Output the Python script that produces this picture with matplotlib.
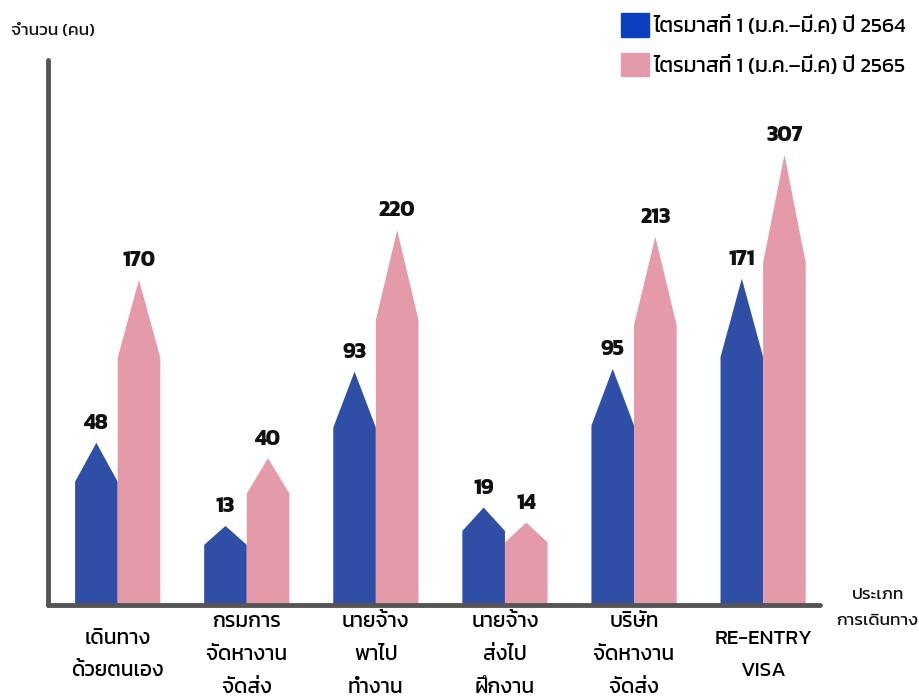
import numpy as np
import matplotlib
matplotlib.use("Agg")
import matplotlib.pyplot as plt
from matplotlib import font_manager
from matplotlib.patches import Patch

# ---------------- data ----------------
categories = ["เดินทาง\nด้วยตนเอง", "กรมการ\nจัดหางาน\nจัดส่ง", "นายจ้าง\nพาไป\nทำงาน",
              "นายจ้าง\nส่งไป\nฝึกงาน", "บริษัท\nจัดหางาน\nจัดส่ง", "RE-ENTRY\nVISA"]
q1_2564 = [48, 13, 93, 19, 95, 171]
q1_2565 = [170, 40, 220, 14, 213, 307]
series_labels = ["ไตรมาสที่ 1 (ม.ค.–มี.ค) ปี 2564", "ไตรมาสที่ 1 (ม.ค.–มี.ค) ปี 2565"]
y_title = "จำนวน (คน)"
x_title = "ประเภท\nการเดินทาง"

# ---------------- font with Thai glyphs ----------------
def find_thai_font():
    preferred = ["Kanit", "Mitr", "Prompt", "Noto Sans Thai", "Noto Sans Thai Looped",
                 "Sarabun", "Loma", "Garuda", "Tlwg Typo", "Norasi", "Waree", "Umpush"]
    try:
        from fontTools.ttLib import TTFont
    except Exception:
        return None
    found = {}
    for fe in font_manager.fontManager.ttflist:
        if fe.name in found:
            continue
        try:
            kw = {"fontNumber": 0} if fe.fname.lower().endswith(".ttc") else {}
            tt = TTFont(fe.fname, lazy=True, **kw)
            cmap = tt.getBestCmap() or {}
            if 0x0E44 in cmap and 0x0E17 in cmap:
                found[fe.name] = True
        except Exception:
            pass
    for p in preferred:
        if p in found:
            return p
    return next(iter(found), None)

thai = find_thai_font()
fams = ([thai] if thai else []) + ["DejaVu Sans"]
plt.rcParams["font.family"] = fams

# ---------------- figure ----------------
BLUE = "#2F4EA6"
PINK = "#E49AA8"
LEG_BLUE = "#0B3FBF"
LEG_PINK = "#E49AAA"
AXC = "#555555"

fig = plt.figure(figsize=(9.19, 7.0), dpi=100)
ax = fig.add_axes([0.0522, 0.1357, 0.840, 0.778])

P = 0.55
fwd = lambda y: np.power(np.clip(y, 0, None), P)
inv = lambda y: np.power(np.clip(y, 0, None), 1.0 / P)
ax.set_yscale("function", functions=(fwd, inv))
ax.set_ylim(0, 434)
ax.set_xlim(-0.54, 5.44)

w = 0.33
shoulder = 0.76

def pointed_bar(xc_left, xc_right, v, color):
    bt = float(inv(shoulder * fwd(v)))
    xm = (xc_left + xc_right) / 2
    xs = [xc_left, xc_right, xc_right, xm, xc_left]
    ys = [0, 0, bt, v, bt]
    ax.fill(xs, ys, color=color, lw=0, zorder=2)
    ax.annotate(str(v), (xm, v), xytext=(0, 7), textcoords="offset points",
                ha="center", va="bottom", fontsize=15.5, fontweight="bold", color="#111111")

x = np.arange(len(categories))
for i in range(len(categories)):
    pointed_bar(x[i] - w, x[i], q1_2564[i], BLUE)
    pointed_bar(x[i], x[i] + w, q1_2565[i], PINK)

# axes styling
for s in ["top", "right"]:
    ax.spines[s].set_visible(False)
for s in ["left", "bottom"]:
    ax.spines[s].set_color(AXC)
    ax.spines[s].set_linewidth(3.5)
    ax.spines[s].set_capstyle("round")
    ax.spines[s].set_zorder(3)
ax.set_yticks([])
ax.yaxis.set_minor_locator(matplotlib.ticker.NullLocator())
ax.set_xticks(x)
ax.set_xticklabels(categories, fontsize=15, linespacing=2.05)
ax.tick_params(axis="x", length=0, pad=36)
for lab in ax.get_xticklabels():
    lab.set_verticalalignment("center")

# titles
fig.text(0.012, 0.956, y_title, fontsize=12.5, ha="left", va="center", color="#111111")
fig.text(0.955, 0.132, x_title, fontsize=12.5, ha="center", va="center",
         linespacing=2.1, color="#111111")

# legend
handles = [Patch(color=LEG_BLUE), Patch(color=LEG_PINK)]
fig.legend(handles, series_labels, loc="upper right", bbox_to_anchor=(1.0, 1.0),
           frameon=False, fontsize=15.3, handlelength=1.35, handleheight=1.35,
           handletextpad=0.2, labelspacing=0.75, borderaxespad=0.2)

fig.savefig("out.png", dpi=100)
